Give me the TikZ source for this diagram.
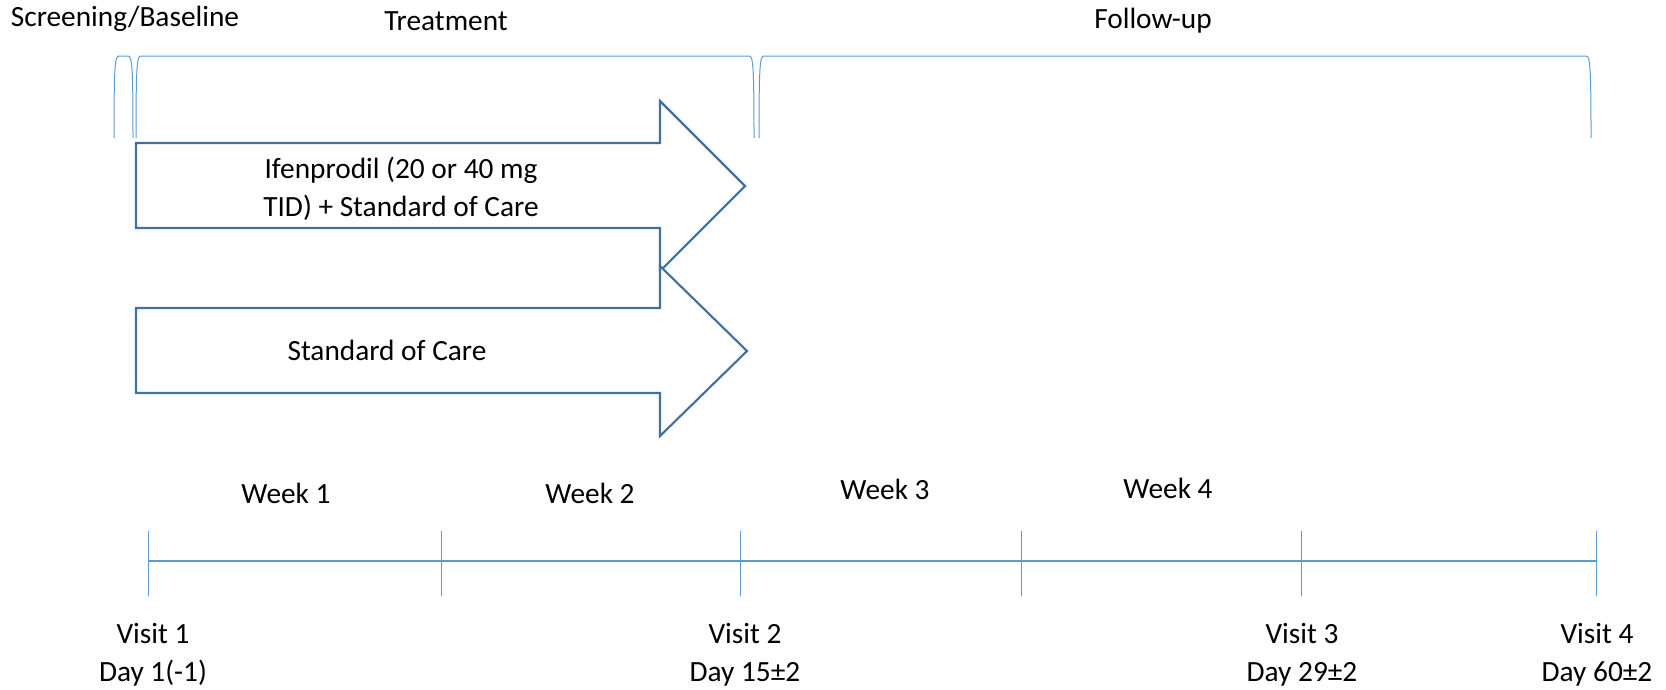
\documentclass[tikz,border=0pt]{standalone}
\usepackage{fontspec}
\setmainfont{Carlito}
\usetikzlibrary{positioning}
\definecolor{phaseblue}{HTML}{5B9BD5}
\definecolor{armblue}{HTML}{41719C}

\begin{document}
\begin{tikzpicture}[
    x=0.75pt, y=-0.75pt,
    font=\fontsize{22}{28.5}\selectfont,
    label_text/.style={align=center, inner sep=0pt},
    phase_brace/.style={draw=phaseblue, line width=0.75pt},
    arm_arrow/.style={draw=armblue, line width=1.6pt, fill=white, line join=miter},
    timeline/.style={draw=phaseblue, line width=1.1pt},
    visit_tick/.style={draw=phaseblue, line width=0.75pt}
  ]
  \useasboundingbox (0,0) rectangle (1666,689);

  % study phases
  \node[label_text] (screening) at (125,19) {Screening/Baseline};
  \node[label_text] (treatment) at (446,21) {Treatment};
  \node[label_text] (followup) at (1153,21) {Follow-up};
  \foreach \xa/\xb in {114/133, 136/754, 759/1591} {
    \draw[phase_brace] (\xa,138) .. controls (\xa,64) and (\xa+1,56) .. (\xa+5,56)
      -- (\xb-5,56) .. controls (\xb-1,56) and (\xb,64) .. (\xb,138);
  }

  % treatment arms
  \draw[arm_arrow] (136,143) -- (660,143) -- (660,101) -- (745,186) -- (660,271) -- (660,228) -- (136,228) -- cycle;
  \draw[arm_arrow] (136,308) -- (660,308) -- (660,266) -- (747,351) -- (660,436) -- (660,393) -- (136,393) -- cycle;
  \node[label_text] (ifenprodil) at (401,189) {Ifenprodil (20 or 40 mg\\TID) + Standard of Care};
  \node[label_text] (soc) at (387,350) {Standard of Care};

  % timeline
  \coordinate (t0) at (148,561);
  \coordinate (t1) at (441,561);
  \coordinate (t2) at (740,561);
  \coordinate (t3) at (1021,561);
  \coordinate (t4) at (1301,561);
  \coordinate (t5) at (1596,561);
  \draw[timeline] (t0) -- (t5);
  \foreach \t in {t0,t1,t2,t3,t4,t5}
    \draw[visit_tick] ([yshift=30*0.75pt]\t) -- ([yshift=-35*0.75pt]\t);

  \node[label_text] (week1) at (286,493) {Week 1};
  \node[label_text] (week2) at (590,493) {Week 2};
  \node[label_text] (week3) at (885,489) {Week 3};
  \node[label_text] (week4) at (1168,488) {Week 4};

  \node[label_text] (visit1) at (153,655) {Visit 1\\Day 1(-1)};
  \node[label_text] (visit2) at (745,655) {Visit 2\\Day 15±2};
  \node[label_text] (visit3) at (1302,655) {Visit 3\\Day 29±2};
  \node[label_text] (visit4) at (1597,655) {Visit 4\\Day 60±2};
\end{tikzpicture}
\end{document}
